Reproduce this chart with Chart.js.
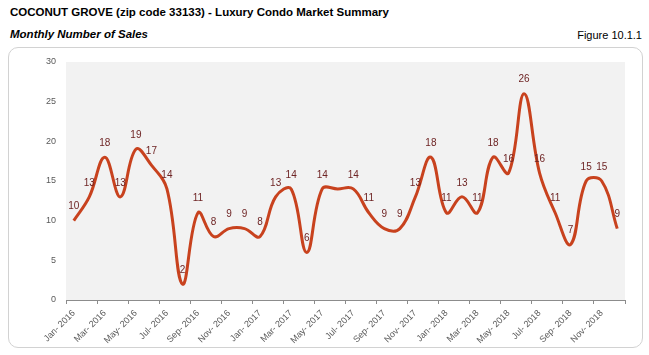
<!DOCTYPE html>
<html>
<head>
<meta charset="utf-8">
<script src="https://cdn.jsdelivr.net/npm/chart.js@4.4.1/dist/chart.umd.min.js"></script>
<style>
  html, body { margin: 0; padding: 0; background: #ffffff; }
  #wrap { position: relative; width: 649px; height: 355px; overflow: hidden; font-family: "Liberation Sans", Arial, sans-serif; }
  #title { position: absolute; left: 10px; top: 6px; font-size: 11.5px; font-weight: bold; color: #000; white-space: nowrap; }
  #subtitle { position: absolute; left: 10px; top: 28px; font-size: 11.5px; font-weight: bold; font-style: italic; color: #000; white-space: nowrap; }
  #figure { position: absolute; right: 7px; top: 29px; font-size: 11px; color: #000; white-space: nowrap; }
  #box { position: absolute; left: 8px; top: 47px; width: 635px; height: 301px; border: 1.5px solid #d2d2d2; border-radius: 10px; box-sizing: border-box; }
  #c { position: absolute; left: 0; top: 0; }
</style>
</head>
<body>
<div id="wrap">
  <div id="box"></div>
  <div id="title">COCONUT GROVE (zip code 33133) - Luxury Condo Market Summary</div>
  <div id="subtitle">Monthly Number of Sales</div>
  <div id="figure">Figure 10.1.1</div>
  <canvas id="c" width="649" height="355"></canvas>
</div>
<script>
const categories = [
  "Jan- 2016","Feb- 2016","Mar- 2016","Apr- 2016","May- 2016","Jun- 2016",
  "Jul- 2016","Aug- 2016","Sep- 2016","Oct- 2016","Nov- 2016","Dec- 2016",
  "Jan- 2017","Feb- 2017","Mar- 2017","Apr- 2017","May- 2017","Jun- 2017",
  "Jul- 2017","Aug- 2017","Sep- 2017","Oct- 2017","Nov- 2017","Dec- 2017",
  "Jan- 2018","Feb- 2018","Mar- 2018","Apr- 2018","May- 2018","Jun- 2018",
  "Jul- 2018","Aug- 2018","Sep- 2018","Oct- 2018","Nov- 2018","Dec- 2018"
];
const sales = [
  10, 13, 18, 13, 19, 17, 14, 2, 11, 8, 9, 9,
  8, 13, 14, 6, 14, 14, 14, 11, 9, 9, 13, 18,
  11, 13, 11, 18, 16, 26, 16, 11, 7, 15, 15, 9
];
const yTicks = [0, 5, 10, 15, 20, 25, 30];
const hiddenLabels = [17];

const plotBg = {
  id: 'plotBg',
  beforeDraw(chart) {
    const { ctx, chartArea: a } = chart;
    ctx.save();
    ctx.fillStyle = '#f2f2f2';
    ctx.fillRect(a.left, a.top, a.right - a.left, a.bottom - a.top);
    ctx.restore();
  }
};

const valueLabels = {
  id: 'valueLabels',
  afterDatasetsDraw(chart) {
    const { ctx } = chart;
    const meta = chart.getDatasetMeta(0);
    const data = chart.data.datasets[0].data;
    ctx.save();
    ctx.font = '10px "Liberation Sans", Arial, sans-serif';
    ctx.fillStyle = '#6e2424';
    ctx.textAlign = 'center';
    ctx.textBaseline = 'middle';
    meta.data.forEach((pt, i) => {
      if (hiddenLabels.includes(i)) return;
      ctx.fillText(String(data[i]), pt.x, pt.y - 14);
    });
    ctx.restore();
  }
};

new Chart(document.getElementById('c'), {
  type: 'line',
  data: {
    labels: categories,
    datasets: [{
      data: sales,
      borderColor: '#c8421e',
      borderWidth: 3,
      pointRadius: 0,
      pointHoverRadius: 0,
      tension: 0.4,
      fill: false
    }]
  },
  options: {
    responsive: false,
    animation: false,
    events: [],
    layout: { padding: { left: 0, top: 62, right: 24, bottom: 0 } },
    plugins: { legend: { display: false }, tooltip: { enabled: false }, title: { display: false } },
    scales: {
      x: {
        type: 'category',
        offset: true,
        afterFit(scale) { scale.height = 55; },
        border: { display: true, color: '#8c8c8c', width: 1 },
        grid: {
          offset: true,
          drawOnChartArea: false,
          drawTicks: true,
          tickLength: 4,
          lineWidth: 1,
          color(ctx) {
            if (ctx.index === undefined) return '#8c8c8c';
            return ctx.index % 2 === 0 ? '#8c8c8c' : 'rgba(0,0,0,0)';
          }
        },
        ticks: {
          autoSkip: false,
          maxRotation: 45,
          minRotation: 45,
          padding: 4,
          color: '#595959',
          font: { family: '"Liberation Sans", Arial, sans-serif', size: 9 },
          callback(val, index) { return index % 2 === 0 ? this.getLabelForValue(val) : ''; }
        }
      },
      y: {
        min: 0,
        max: 30,
        afterFit(scale) { scale.width = 66; },
        afterBuildTicks(scale) { scale.ticks = yTicks.map(v => ({ value: v })); },
        border: { display: false },
        grid: { display: false, drawTicks: false },
        ticks: {
          padding: 10,
          color: '#595959',
          font: { family: '"Liberation Sans", Arial, sans-serif', size: 9 }
        }
      }
    }
  },
  plugins: [plotBg, valueLabels]
});
</script>
</body>
</html>
